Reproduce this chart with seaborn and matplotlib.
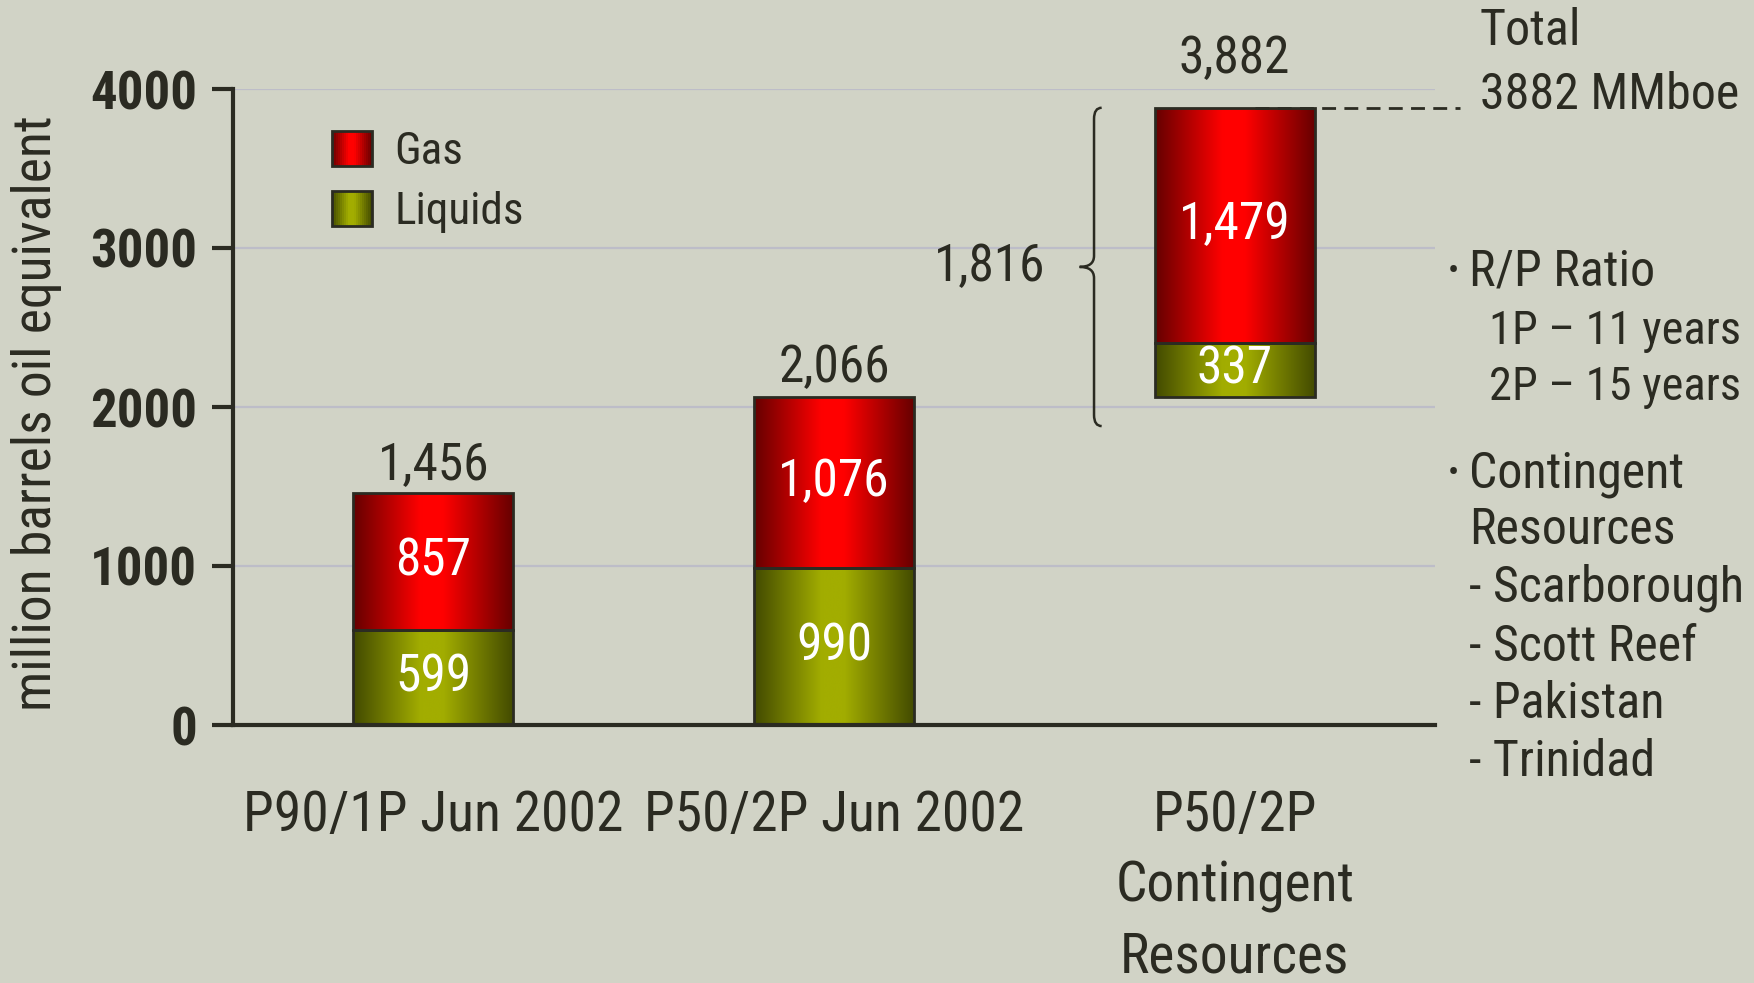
import matplotlib
matplotlib.use("Agg")
import matplotlib.pyplot as plt
import numpy as np
import pandas as pd
import seaborn as sns
from matplotlib.colors import LinearSegmentedColormap
from matplotlib.legend_handler import HandlerBase
from matplotlib.patches import Patch, PathPatch, Rectangle
from matplotlib.path import Path

# data
categories = ["P90/1P Jun 2002", "P50/2P Jun 2002", "P50/2P\nContingent\nResources"]
liquids = [599, 990, 337]
gas = [857, 1076, 1479]
base = [0, 0, 2066]
yticks = [0, 1000, 2000, 3000, 4000]
contingent_total = 1816
grand_total = 3882

# (text, x px, y px, font size)
side_lines = [
    ("Total", 1480, 31, 36),
    ("3882 MMboe", 1480, 95, 36),
    ("R/P Ratio", 1469, 272, 36),
    ("1P \u2013 11 years", 1489, 331, 33.5),
    ("2P \u2013 15 years", 1489, 387, 33.5),
    ("Contingent", 1469, 474, 36),
    ("Resources", 1469, 530, 36),
    ("- Scarborough", 1469, 588, 36),
    ("- Scott Reef", 1469, 647, 36),
    ("- Pakistan", 1469, 704, 36),
    ("- Trinidad", 1469, 762, 36),
]
bullets = [(1448, 272), (1448, 474)]

BG = "#D1D3C6"
INK = "#2b2b22"
GRID = "#bdbdc8"
FONT = ["Roboto Condensed", "Archivo Narrow", "PT Sans Narrow", "IBM Plex Sans Condensed",
        "Liberation Sans Narrow", "DejaVu Sans"]

gas_cmap = LinearSegmentedColormap.from_list(
    "gas", [(0, "#650000"), (0.42, "#ff0000"), (0.56, "#ff0000"), (1, "#650000")])
liq_cmap = LinearSegmentedColormap.from_list(
    "liq", [(0, "#424a00"), (0.42, "#a2ad00"), (0.56, "#a2ad00"), (1, "#424a00")])

sns.set_theme(style="white")
plt.rcParams["font.family"] = FONT

W, H = 1754, 983
fig = plt.figure(figsize=(W / 100, H / 100), dpi=100, facecolor=BG)
ax = fig.add_axes([233 / W, 1 - 725 / H, 1202 / W, 636 / H])
ax.set_facecolor(BG)

df = pd.DataFrame({"category": categories, "liquids": liquids, "gas": gas, "base": base})
liq_bottom = df["base"].to_numpy()
gas_bottom = (df["base"] + df["liquids"]).to_numpy()

sns.barplot(data=df, x="category", y="liquids", bottom=liq_bottom, width=0.4,
            color="#a2ad00", edgecolor=INK, linewidth=2, ax=ax, zorder=3)
sns.barplot(data=df, x="category", y="gas", bottom=gas_bottom, width=0.4,
            color="#ff0000", edgecolor=INK, linewidth=2, ax=ax, zorder=3)

grad = np.linspace(0, 1, 256).reshape(1, -1)
for container, cmap in zip(ax.containers, [liq_cmap, gas_cmap]):
    for bar in container:
        x0, y0, w, h = bar.get_x(), bar.get_y(), bar.get_width(), bar.get_height()
        im = ax.imshow(grad, cmap=cmap, extent=[x0, x0 + w, y0, y0 + h],
                       aspect="auto", interpolation="bicubic", zorder=2.5)
        im.set_clip_path(bar)
        bar.set_facecolor("none")

# labels in segments and totals
for i in range(len(categories)):
    ax.text(i, base[i] + liquids[i] / 2, f"{liquids[i]:,}", ha="center", va="center",
            color="white", fontsize=37, zorder=5)
    ax.text(i, base[i] + liquids[i] + gas[i] / 2, f"{gas[i]:,}", ha="center", va="center",
            color="white", fontsize=37, zorder=5)
    top = base[i] + liquids[i] + gas[i]
    lift = 150 if base[i] > 0 else 25
    ax.text(i, top + lift, f"{top:,}", ha="center", va="bottom", color=INK, fontsize=37)

# brace for contingent resources
xs, xt, xe = 1.649, 1.613, 1.668
y1, y0 = grand_total, 1880
ym = (y1 + y0) / 2
d = 70
verts = [(xe, y1), (xs, y1), (xs, y1 - d), (xs, ym + d), (xs, ym), (xt, ym),
         (xs, ym), (xs, ym - d), (xs, y0 + d), (xs, y0), (xe, y0)]
codes = [Path.MOVETO, Path.CURVE3, Path.CURVE3, Path.LINETO, Path.CURVE3, Path.CURVE3,
         Path.CURVE3, Path.CURVE3, Path.LINETO, Path.CURVE3, Path.CURVE3]
ax.add_patch(PathPatch(Path(verts, codes), facecolor="none", edgecolor=INK, lw=1.8, zorder=4))
ax.text(xt - 0.085, ym, f"{contingent_total:,}", ha="right", va="center", color=INK, fontsize=37)

# dashed leader to total
ax.plot([2.05, 2.562], [grand_total, grand_total], color=INK, lw=2, ls=(0, (5, 3)),
        clip_on=False, zorder=4)

# axes styling
ax.set_xlim(-0.5, 2.5)
ax.set_ylim(0, 4000)
ax.set_yticks(yticks)
ax.set_yticklabels([str(t) for t in yticks], fontsize=38, fontweight="bold", color=INK)
ax.set_xticks(range(len(categories)))
ax.set_xticklabels(categories, fontsize=40, color=INK, linespacing=1.42)
ax.set_xticks([-0.5, 0.5, 1.5, 2.5], minor=True)
ax.tick_params(axis="x", which="major", length=0, pad=46)
ax.tick_params(axis="x", which="minor", length=15, width=3, color=INK, direction="out")
ax.tick_params(axis="y", which="major", length=15, width=3, color=INK, direction="out",
               left=True, pad=11)
ax.grid(axis="y", color=GRID, lw=1.6, zorder=0)
ax.set_axisbelow(True)
for side in ["top", "right"]:
    ax.spines[side].set_visible(False)
for side in ["left", "bottom"]:
    ax.spines[side].set_color(INK)
    ax.spines[side].set_linewidth(3)
    ax.spines[side].set_zorder(6)
ax.set_xlabel("")
ax.set_ylabel("million barrels oil equivalent", fontsize=38.5, color=INK)
ax.yaxis.set_label_coords(-0.142, 0.49)


class GradientHandler(HandlerBase):
    def __init__(self, cmap):
        super().__init__()
        self.cmap = cmap

    def create_artists(self, legend, orig_handle, xdescent, ydescent, width, height,
                       fontsize, trans):
        n = 20
        arts = []
        for k in range(n):
            arts.append(Rectangle((-xdescent + width * k / n, -ydescent), width / n, height,
                                  facecolor=self.cmap((k + 0.5) / n), edgecolor="none",
                                  transform=trans))
        arts.append(Rectangle((-xdescent, -ydescent), width, height, facecolor="none",
                              edgecolor=INK, lw=2, transform=trans))
        return arts


h_gas = Patch(label="Gas")
h_liq = Patch(label="Liquids")
ax.legend(handles=[h_gas, h_liq], labels=["Gas", "Liquids"],
          handler_map={h_gas: GradientHandler(gas_cmap), h_liq: GradientHandler(liq_cmap)},
          loc="upper left", bbox_to_anchor=(0.082, 0.934), frameon=False, fontsize=32.5,
          handlelength=0.89, handleheight=0.8, handletextpad=0.5, labelspacing=0.4,
          borderaxespad=0, borderpad=0, labelcolor=INK)

# right side notes
for text, px, py, size in side_lines:
    fig.text(px / W, 1 - py / H, text, ha="left", va="center", fontsize=size, color=INK)
for px, py in bullets:
    fig.text(px / W, 1 - py / H, "\u2022", ha="left", va="center", fontsize=24, color=INK)

fig.savefig("out.png", dpi=100, facecolor=BG)
